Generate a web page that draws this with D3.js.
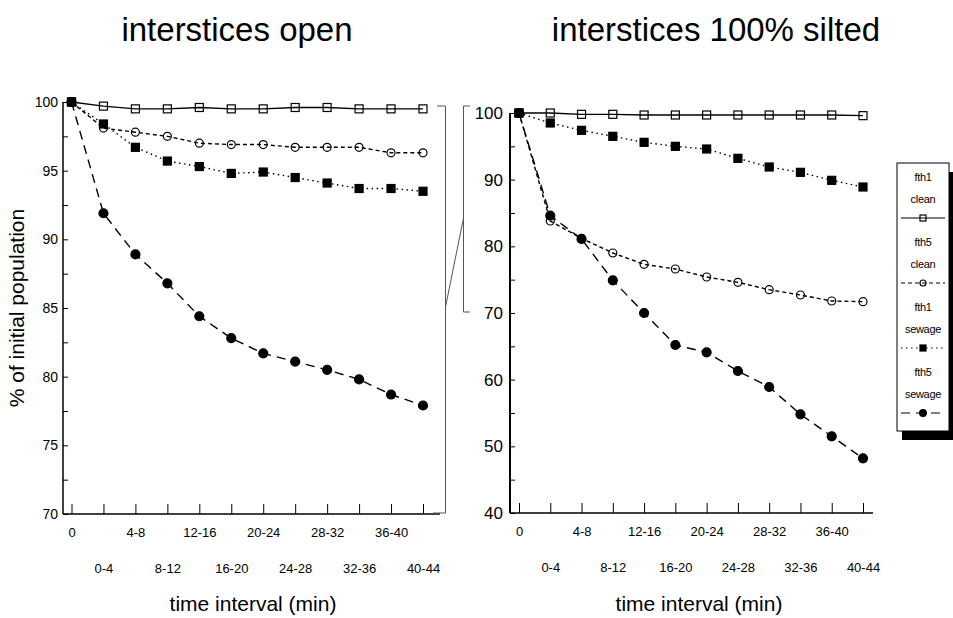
<!DOCTYPE html>
<html>
<head>
<meta charset="utf-8">
<script src="https://cdn.jsdelivr.net/npm/d3@7"></script>
<style>
  body { margin: 0; background: #fff; }
  svg { display: block; font-family: "Liberation Sans", Arial, Helvetica, sans-serif; }
</style>
</head>
<body>
<svg id="chart" width="953" height="618"></svg>
<script>
// time intervals (x categories)
var intervals = ["0", "0-4", "4-8", "8-12", "12-16", "16-20", "20-24", "24-28", "28-32", "32-36", "36-40", "40-44"];

// interstices open
var openFth1Clean  = [100, 99.7, 99.5, 99.5, 99.6, 99.5, 99.5, 99.6, 99.6, 99.5, 99.5, 99.5];
var openFth5Clean  = [100, 98.1, 97.8, 97.5, 97.0, 96.9, 96.9, 96.7, 96.7, 96.7, 96.3, 96.3];
var openFth1Sewage = [100, 98.4, 96.7, 95.7, 95.3, 94.8, 94.9, 94.5, 94.1, 93.7, 93.7, 93.5];
var openFth5Sewage = [100, 91.9, 88.9, 86.8, 84.4, 82.8, 81.7, 81.1, 80.5, 79.8, 78.7, 77.9];

// interstices 100% silted
var siltFth1Clean  = [100, 100, 99.8, 99.8, 99.7, 99.7, 99.7, 99.7, 99.7, 99.7, 99.7, 99.6];
var siltFth5Clean  = [100, 83.8, 81.2, 79.0, 77.3, 76.6, 75.4, 74.6, 73.5, 72.7, 71.8, 71.7];
var siltFth1Sewage = [100, 98.5, 97.4, 96.5, 95.6, 95.0, 94.6, 93.2, 91.9, 91.1, 89.9, 88.9];
var siltFth5Sewage = [100, 84.6, 81.1, 74.9, 70.0, 65.2, 64.1, 61.3, 58.9, 54.8, 51.5, 48.2];

var legendNames = ["fth1", "fth5", "fth1", "fth5"];
var legendConds = ["clean", "clean", "sewage", "sewage"];

var svg = d3.select("#chart");

// line style + marker for each series, in legend order
var styles = [
  { dash: null,      marker: "square", fill: "none" },
  { dash: "4,3",     marker: "circle", fill: "none" },
  { dash: "1.5,3.5", marker: "square", fill: "#000" },
  { dash: "9,6",     marker: "circle", fill: "#000" }
];

function drawMarker(g, type, fill, x, y, s) {
  s = s || 1;
  if (type == "square") {
    g.append("rect")
      .attr("x", x - 4 * s).attr("y", y - 4 * s)
      .attr("width", 8 * s).attr("height", 8 * s)
      .attr("fill", fill).attr("stroke", "#000").attr("stroke-width", 1.2);
  } else {
    g.append("circle")
      .attr("cx", x).attr("cy", y)
      .attr("r", (fill == "none" ? 4 : 4.5) * s)
      .attr("fill", fill).attr("stroke", "#000").attr("stroke-width", 1.2);
  }
}

function panel(cfg) {
  var x = d3.scalePoint().domain(intervals).range(cfg.xRange);
  var y = d3.scaleLinear().domain(cfg.yDomain).range(cfg.yRange);
  var g = svg.append("g");

  // y axis, inside ticks
  var yAxis = d3.axisLeft(y)
    .tickValues(d3.range(cfg.yDomain[0], cfg.yDomain[1] + 0.01, cfg.minorStep))
    .tickFormat(function (d) { return d % cfg.labelStep == 0 ? d : ""; })
    .tickSizeInner(-5).tickSizeOuter(0).tickPadding(cfg.yPad);
  var ya = g.append("g").attr("transform", "translate(" + cfg.axisX + ",0)").call(yAxis);
  ya.select(".domain").remove();
  ya.selectAll("text").attr("font-size", cfg.yFont).attr("font-family", null).attr("fill", "#000");
  ya.selectAll("line").attr("stroke", "#000");
  g.append("line")
    .attr("x1", cfg.axisX).attr("x2", cfg.axisX)
    .attr("y1", cfg.yRange[1]).attr("y2", cfg.yRange[0])
    .attr("stroke", "#000").attr("stroke-width", cfg.axisW);

  // x axis, inside ticks, labels on two rows
  var xAxis = d3.axisBottom(x).tickSizeInner(-10).tickSizeOuter(0).tickPadding(0);
  var xa = g.append("g").attr("transform", "translate(0," + cfg.yRange[0] + ")").call(xAxis);
  xa.select(".domain").remove();
  xa.selectAll("line").attr("stroke", "#000");
  xa.selectAll("text")
    .attr("font-size", 13).attr("font-family", null).attr("fill", "#000")
    .attr("dy", null)
    .attr("y", function (d, i) { return i % 2 == 0 ? 23 : 59; });
  g.append("line")
    .attr("x1", cfg.axisX).attr("x2", cfg.xEnd)
    .attr("y1", cfg.yRange[0]).attr("y2", cfg.yRange[0])
    .attr("stroke", "#000").attr("stroke-width", 1.5);

  var line = d3.line()
    .x(function (d, i) { return x(intervals[i]); })
    .y(function (d) { return y(d); });

  cfg.series.forEach(function (vals, k) {
    var st = styles[k];
    g.append("path")
      .attr("d", line(vals))
      .attr("fill", "none").attr("stroke", "#000").attr("stroke-width", 1.4)
      .attr("stroke-dasharray", st.dash);
  });
  cfg.series.forEach(function (vals, k) {
    var st = styles[k];
    vals.forEach(function (v, i) {
      drawMarker(g, st.marker, st.fill, x(intervals[i]), y(v));
    });
  });

  // title and x label
  svg.append("text")
    .attr("x", cfg.titleX).attr("y", 41)
    .attr("text-anchor", "middle").attr("font-size", 33)
    .text(cfg.title);
  svg.append("text")
    .attr("x", cfg.labelX).attr("y", 611)
    .attr("text-anchor", "middle").attr("font-size", 21)
    .text("time interval (min)");
}

panel({
  title: "interstices open", titleX: 237, labelX: 253,
  xRange: [71.5, 423], xEnd: 440, axisX: 63, axisW: 1.5,
  yDomain: [70, 100], yRange: [514, 102], minorStep: 2.5, labelStep: 5, yFont: 14, yPad: 5,
  series: [openFth1Clean, openFth5Clean, openFth1Sewage, openFth5Sewage]
});

panel({
  title: "interstices 100% silted", titleX: 716, labelX: 699,
  xRange: [519, 863], xEnd: 873, axisX: 510, axisW: 2,
  yDomain: [40, 100], yRange: [513, 113], minorStep: 5, labelStep: 10, yFont: 17, yPad: 7,
  series: [siltFth1Clean, siltFth5Clean, siltFth1Sewage, siltFth5Sewage]
});

// y axis title
svg.append("text")
  .attr("transform", "translate(24,308) rotate(-90)")
  .attr("text-anchor", "middle").attr("font-size", 21)
  .text("% of initial population");

// frame leftovers between the panels
var frame = svg.append("g").attr("fill", "none").attr("stroke", "#555").attr("stroke-width", 1);
frame.append("path").attr("d", "M437,106 H445.5 V513 H433");
frame.append("path").attr("d", "M470,106 H463.5 V312 H470");
frame.append("path").attr("d", "M445.5,307 L463.5,218");

// legend
var lg = svg.append("g");
lg.append("rect").attr("x", 902).attr("y", 172).attr("width", 51).attr("height", 268).attr("fill", "#000");
lg.append("rect").attr("x", 897).attr("y", 163).attr("width", 52).attr("height", 268)
  .attr("fill", "#fff").attr("stroke", "#000").attr("stroke-width", 1);

legendNames.forEach(function (name, k) {
  var top = 181 + k * 65;
  var st = styles[k];
  lg.append("text").attr("x", 923).attr("y", top).attr("text-anchor", "middle")
    .attr("font-size", 11).attr("letter-spacing", -0.3).text(name);
  lg.append("text").attr("x", 923).attr("y", top + 22).attr("text-anchor", "middle")
    .attr("font-size", 11).attr("letter-spacing", -0.3).text(legendConds[k]);
  lg.append("line").attr("x1", 901).attr("x2", 945).attr("y1", top + 37).attr("y2", top + 37)
    .attr("stroke", "#000").attr("stroke-width", 1.2).attr("stroke-dasharray", st.dash);
  drawMarker(lg, st.marker, st.fill, 923, top + 37, 0.75);
});
</script>
</body>
</html>
